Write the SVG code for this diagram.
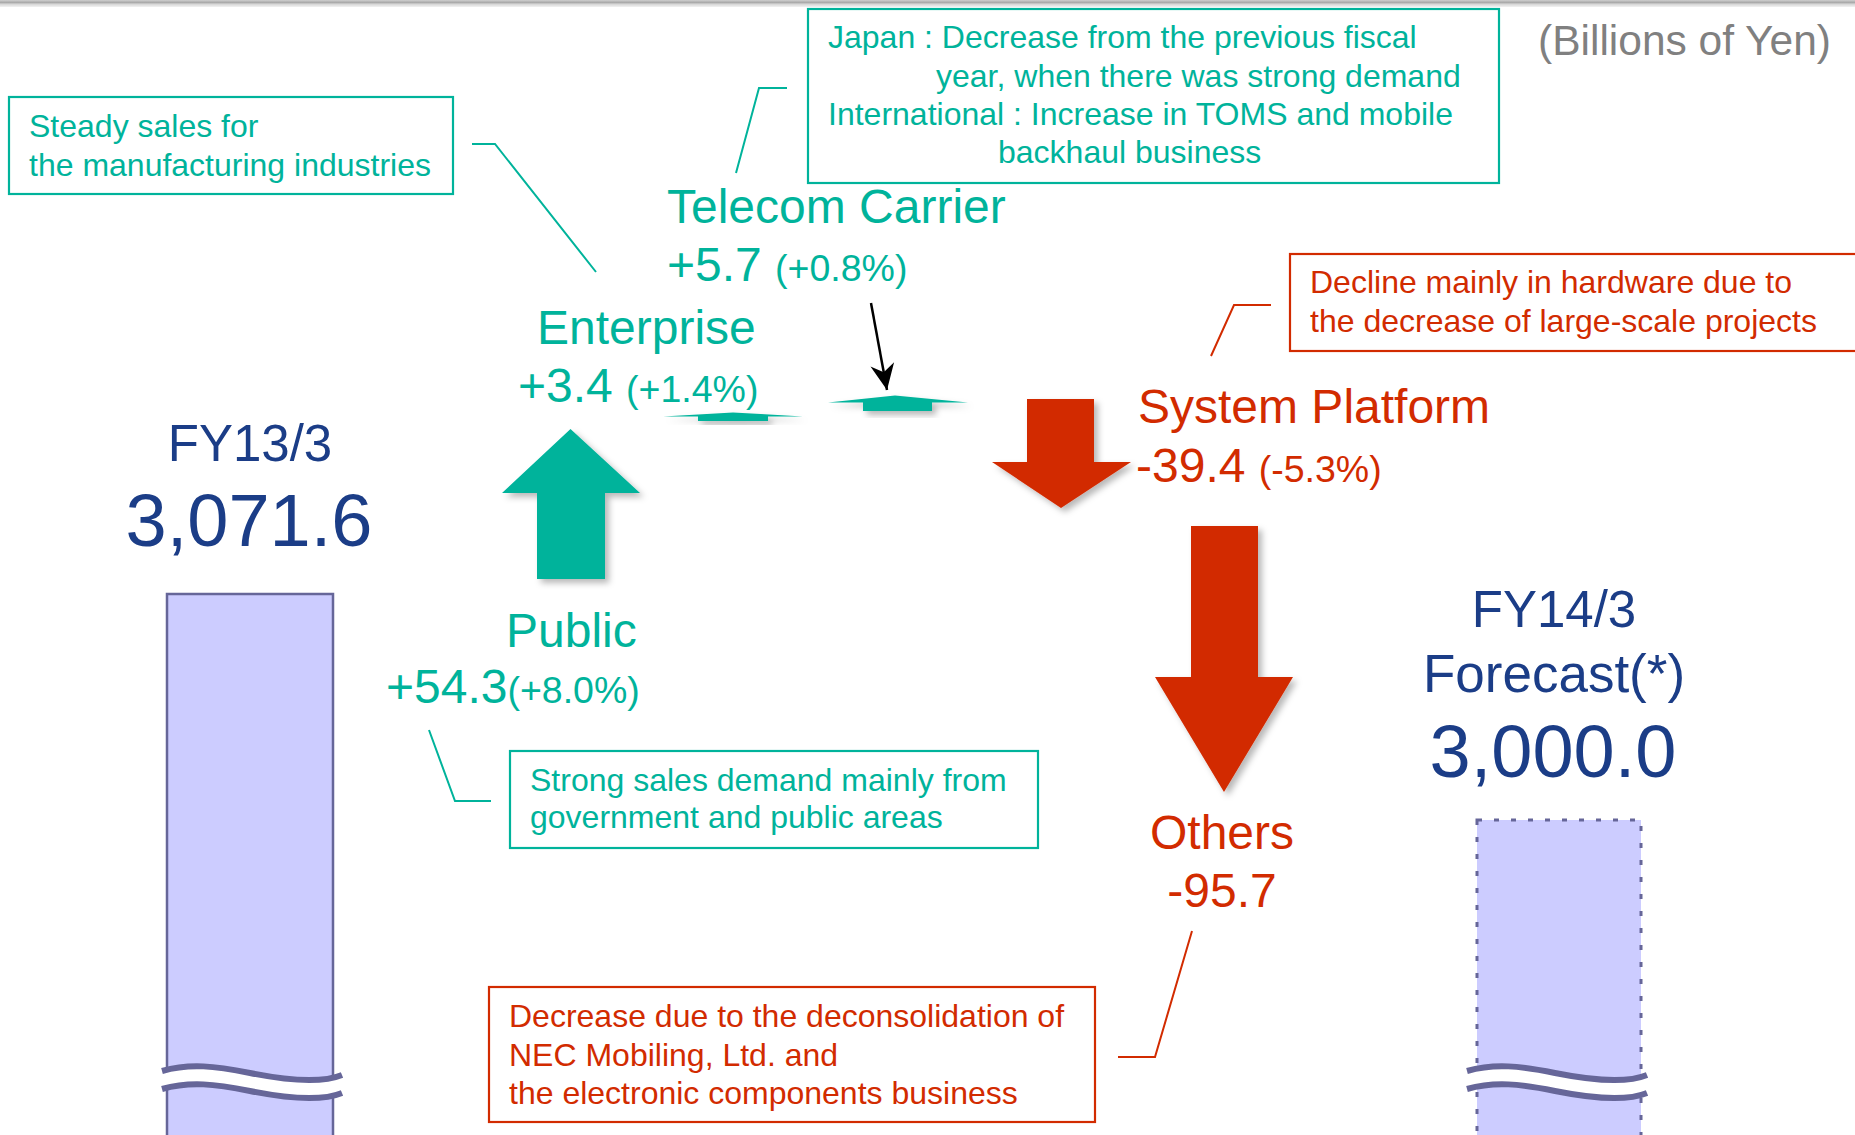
<svg xmlns="http://www.w3.org/2000/svg" width="1855" height="1135" viewBox="0 0 1855 1135">
  <style>
    text { font-family: "Liberation Sans", Arial, sans-serif; }
    .teal { fill: #00b39b; }
    .red { fill: #d22b00; }
    .navy { fill: #1b3d87; }
    .gray { fill: #808080; }
    .big { font-size: 48px; }
    .pct { font-size: 37.5px; }
    .note { font-size: 32px; }
    .box-teal { fill: #ffffff; stroke: #00b39b; stroke-width: 2.2; }
    .box-red { fill: #ffffff; stroke: #d22b00; stroke-width: 2.2; }
    .lead-teal { fill: none; stroke: #00b39b; stroke-width: 2; }
    .lead-red { fill: none; stroke: #d22b00; stroke-width: 2; }
    .arrow-teal { fill: #00b39b; filter: url(#shadow); }
    .arrow-red { fill: #d22b00; filter: url(#shadow); }
    .bar { fill: #ccccff; stroke: #666699; stroke-width: 2.5; }
    .bar-dotted { fill: #ccccff; stroke: #666699; stroke-width: 3; stroke-dasharray: 5 12; }
    .wave-gap { fill: #ffffff; stroke: none; }
    .wave { fill: none; stroke: #666699; stroke-width: 6; }
  </style>
  <defs>
    <filter id="shadow" x="-30%" y="-30%" width="170%" height="170%">
      <feDropShadow dx="4" dy="4" stdDeviation="3" flood-color="#000000" flood-opacity="0.28"/>
    </filter>
    <linearGradient id="topRule" x1="0" y1="0" x2="0" y2="1">
      <stop offset="0" stop-color="#cfcfcf"/>
      <stop offset="0.35" stop-color="#a9a9a9"/>
      <stop offset="0.6" stop-color="#d6d6d6"/>
      <stop offset="1" stop-color="#f2f2f2"/>
    </linearGradient>
    <marker id="stealth" viewBox="0 0 30 30" refX="28" refY="15" markerWidth="30" markerHeight="30" markerUnits="userSpaceOnUse" orient="auto">
      <path d="M28,15 L2,3 L10,15 L2,27 Z" fill="#000000"/>
    </marker>
  </defs>

  <rect width="1855" height="1135" fill="#ffffff"/>
  <!-- header rule -->
  <rect x="0" y="0" width="1855" height="7" fill="url(#topRule)"/>

  <text x="1538" y="55" class="gray" font-size="42.5">(Billions of Yen)</text>

  <!-- starting total -->
  <g id="fy13">
    <rect x="167" y="594" width="166" height="560" class="bar"/>
    <path class="wave-gap" d="M162,1071 C190,1063 215,1066 250,1073 S320,1084 342,1075 L342,1093 C320,1102 285,1095 250,1091 S190,1081 162,1089 Z"/>
    <path class="wave" d="M162,1071 C190,1063 215,1066 250,1073 S320,1084 342,1075"/>
    <path class="wave" d="M162,1089 C190,1081 215,1084 250,1091 S320,1102 342,1093"/>
    <text x="250" y="461" class="navy" font-size="51" text-anchor="middle">FY13/3</text>
    <text x="249" y="546" class="navy" font-size="74" text-anchor="middle">3,071.6</text>
  </g>

  <!-- forecast total -->
  <g id="fy14">
    <rect x="1477" y="820" width="164" height="340" class="bar-dotted"/>
    <path class="wave-gap" d="M1467,1071 C1495,1063 1520,1066 1555,1073 S1625,1084 1647,1075 L1647,1093 C1625,1102 1590,1095 1555,1091 S1495,1081 1467,1089 Z"/>
    <path class="wave" d="M1467,1071 C1495,1063 1520,1066 1555,1073 S1625,1084 1647,1075"/>
    <path class="wave" d="M1467,1089 C1495,1081 1520,1084 1555,1091 S1625,1102 1647,1093"/>
    <text x="1554" y="627" class="navy" font-size="51" text-anchor="middle">FY14/3</text>
    <text x="1554" y="692" class="navy" font-size="53" text-anchor="middle">Forecast(*)</text>
    <text x="1553" y="777" class="navy" font-size="74" text-anchor="middle">3,000.0</text>
  </g>

  <!-- Public -->
  <g id="public">
    <polygon class="arrow-teal" points="570.5,429 640,493 605,493 605,579 537,579 537,493 502,493"/>
    <text x="506" y="647" class="teal big">Public</text>
    <text x="386" y="703" class="teal big">+54.3<tspan class="pct">(+8.0%)</tspan></text>
  </g>

  <!-- Enterprise -->
  <g id="enterprise">
    <polygon class="arrow-teal" points="663,416.5 733,412.5 803,416.5 768,416.5 768,421 698,421 698,416.5"/>
    <text x="537" y="344" class="teal big">Enterprise</text>
    <text x="518" y="402" class="teal big">+3.4 <tspan class="pct">(+1.4%)</tspan></text>
  </g>

  <!-- Telecom Carrier -->
  <g id="telecom">
    <polygon class="arrow-teal" points="828,402.5 895,395.5 968,402.5 932,402.5 932,411 863,411 863,402.5"/>
    <text x="667" y="223" class="teal big">Telecom Carrier</text>
    <text x="667" y="281" class="teal big">+5.7 <tspan class="pct">(+0.8%)</tspan></text>
  </g>

  <!-- System Platform -->
  <g id="system-platform">
    <polygon class="arrow-red" points="1027,399 1094,399 1094,462 1131,462 1061,508 992,462 1027,462"/>
    <text x="1138" y="423" class="red big">System Platform</text>
    <text x="1136" y="482" class="red big">-39.4 <tspan class="pct">(-5.3%)</tspan></text>
  </g>

  <!-- Others -->
  <g id="others">
    <polygon class="arrow-red" points="1191,526 1258,526 1258,677 1293,677 1224,792 1155,677 1191,677"/>
    <text x="1222" y="849" class="red big" text-anchor="middle">Others</text>
    <text x="1222" y="907" class="red big" text-anchor="middle">-95.7</text>
  </g>

  <!-- notes -->
  <g id="note-enterprise">
    <rect x="9" y="97" width="444" height="97" class="box-teal"/>
    <text x="29" y="137" class="teal note">Steady sales for</text>
    <text x="29" y="176" class="teal note">the manufacturing industries</text>
  </g>

  <g id="note-telecom">
    <rect x="808" y="9" width="691" height="174" class="box-teal"/>
    <text x="828" y="48" class="teal note">Japan : Decrease from the previous fiscal</text>
    <text x="936" y="87" class="teal note">year, when there was strong demand</text>
    <text x="828" y="125" class="teal note">International : Increase in TOMS and mobile</text>
    <text x="998" y="163" class="teal note">backhaul business</text>
  </g>

  <g id="note-system-platform">
    <rect x="1290" y="254" width="575" height="97" class="box-red"/>
    <text x="1310" y="293" class="red note">Decline mainly in hardware due to</text>
    <text x="1310" y="332" class="red note">the decrease of large-scale projects</text>
  </g>

  <g id="note-public">
    <rect x="510" y="751" width="528" height="97" class="box-teal"/>
    <text x="530" y="791" class="teal note">Strong sales demand mainly from</text>
    <text x="530" y="828" class="teal note">government and public areas</text>
  </g>

  <g id="note-others">
    <rect x="489" y="987" width="606" height="135" class="box-red"/>
    <text x="509" y="1027" class="red note">Decrease due to the deconsolidation of</text>
    <text x="509" y="1066" class="red note">NEC Mobiling, Ltd. and</text>
    <text x="509" y="1104" class="red note">the electronic components business</text>
  </g>

  <!-- leader lines and pointer -->
  <g id="connectors">
    <path class="lead-teal" d="M472,144 L495,144 L596,272"/>
    <path class="lead-teal" d="M787,88 L759,88 L736,173"/>
    <path class="lead-red" d="M1271,305 L1234,305 L1211,356"/>
    <path class="lead-teal" d="M429,730 L455,801 L491,801"/>
    <path class="lead-red" d="M1192,931 L1155,1057 L1118,1057"/>
    <path d="M871,303 L887,390" fill="none" stroke="#000000" stroke-width="2.5" marker-end="url(#stealth)"/>
  </g>
</svg>
